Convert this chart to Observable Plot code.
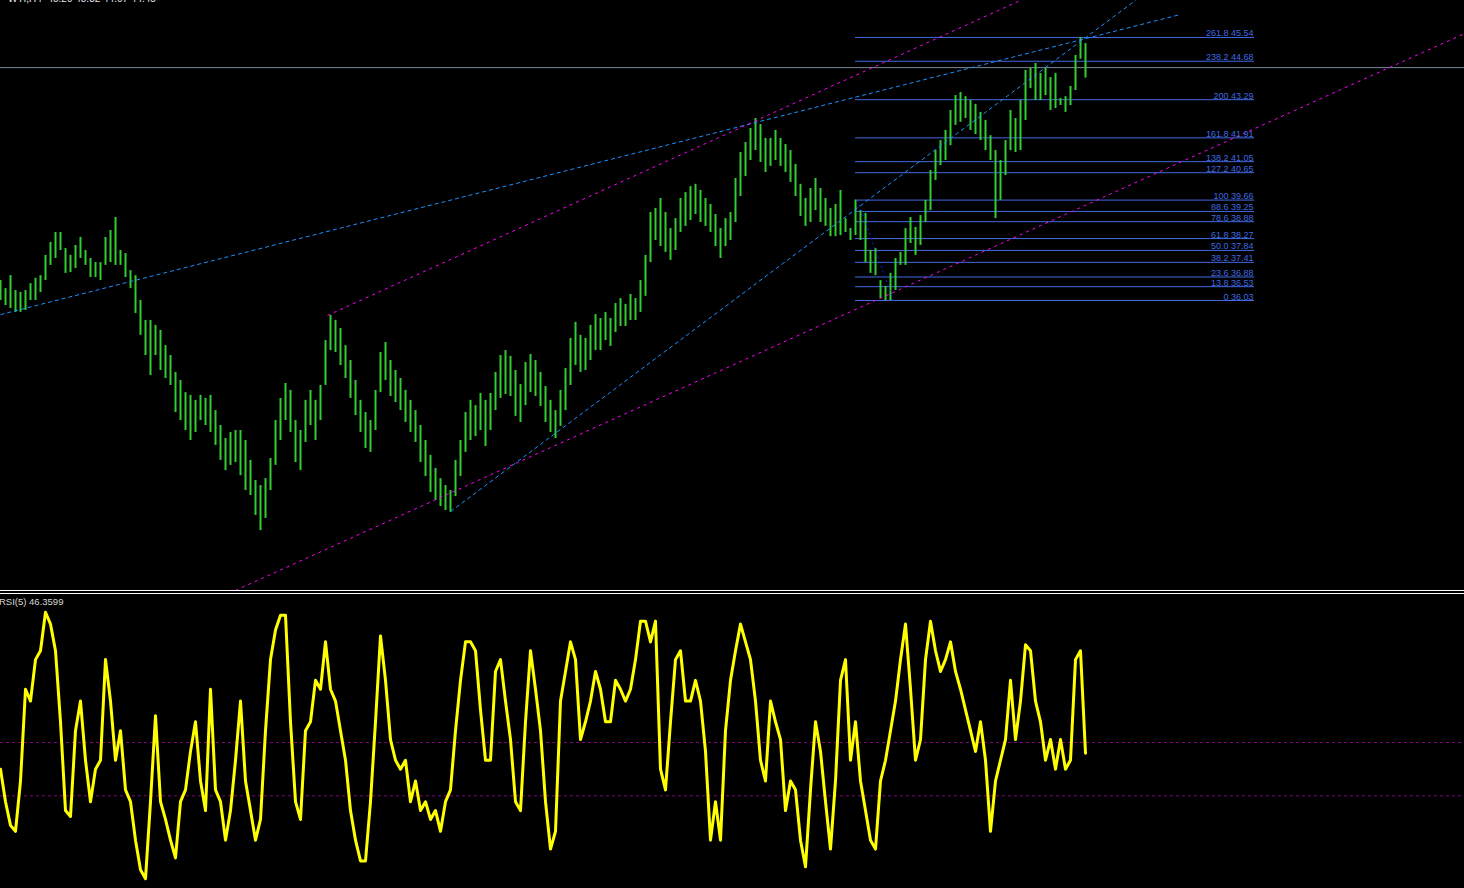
<!DOCTYPE html>
<html><head><meta charset="utf-8">
<script src="https://cdn.jsdelivr.net/npm/d3@7"></script>
<script src="https://cdn.jsdelivr.net/npm/@observablehq/plot@0.6"></script>
<style>
html,body{margin:0;padding:0;background:#000;width:1464px;height:888px;overflow:hidden;}
#wrap{position:relative;width:1464px;height:888px;overflow:hidden;background:#000;}
.panel{position:absolute;left:0;overflow:hidden;}
.panel svg{overflow:hidden;display:block;}
#hdr{position:absolute;left:8px;top:-6px;font:10px "Liberation Sans",Arial,sans-serif;line-height:10px;color:#e8e8e8;white-space:pre;}
#rsilbl{position:absolute;left:-1px;top:596px;font:9.5px "Liberation Sans",Arial,sans-serif;line-height:11px;color:#d8d8d8;white-space:pre;}
.sep{position:absolute;left:0;width:1464px;height:1px;background:#fff;}
</style></head>
<body>
<div id="wrap">
  <div id="price" class="panel" style="top:0;width:1464px;height:590px;"></div>
  <div class="sep" style="top:590px"></div>
  <div class="sep" style="top:593px"></div>
  <div id="rsi" class="panel" style="top:594px;width:1464px;height:294px;"></div>
  <div id="hdr"></div>
  <div id="rsilbl"></div>
</div>
<script>
// ---- data ----
const headerText = "WTI,H4  45.20 45.32 44.07 44.45";
const rsiLabel = "RSI(5) 46.3599";
const lastClose = 44.45;

const priceHigh = [
36.75,36.46,36.93,36.39,36.32,36.39,36.64,36.83,36.93,37.66,
38.13,38.49,38.49,37.91,37.66,38.02,38.31,37.84,37.55,37.40,
37.40,38.31,38.56,39.03,37.84,37.73,37.11,36.93,36.03,35.31,
35.31,35.13,34.95,34.40,34.04,33.43,33.14,32.70,32.60,32.42,
32.60,32.49,32.60,32.05,31.51,31.04,31.26,31.33,31.33,30.97,
30.25,29.52,29.34,29.59,30.32,31.69,32.49,33.03,32.78,31.69,
31.33,32.42,32.78,32.42,32.96,34.58,35.49,35.31,35.02,34.40,
33.86,33.14,32.42,31.98,31.69,32.78,34.15,34.51,33.86,33.50,
33.21,32.78,32.42,32.05,31.51,30.97,30.43,29.96,29.59,29.34,
29.16,30.25,30.97,31.98,32.42,32.23,32.67,32.42,32.67,33.43,
34.04,34.22,34.01,33.50,32.99,33.79,34.08,33.86,33.43,32.92,
32.42,32.05,32.78,33.57,34.66,35.24,34.77,34.66,35.13,35.52,
35.38,35.60,35.38,35.92,36.10,35.89,36.25,36.10,36.75,37.66,
39.21,39.36,39.72,39.21,38.63,38.99,39.72,39.93,40.15,40.23,
40.01,39.72,39.50,39.14,38.63,38.99,39.21,40.44,41.38,41.74,
42.25,42.61,42.39,41.89,41.89,42.18,41.89,41.67,41.45,40.95,
40.23,39.72,40.08,40.44,40.08,39.72,39.36,39.50,40.01,38.99,
38.63,39.66,39.28,39.18,37.84,37.91,36.75,36.54,37.01,37.55,
37.77,38.63,39.03,38.67,39.10,39.65,40.73,41.45,41.81,42.18,
42.90,43.44,43.55,43.40,43.26,43.12,42.83,42.54,41.99,41.45,
41.09,41.81,42.90,42.61,43.26,44.35,44.42,44.60,44.24,44.45,
44.09,44.24,43.33,43.40,43.77,44.89,45.54,45.32
];
const priceLow = [
36.03,35.85,35.74,35.60,35.60,35.67,36.03,36.03,36.32,36.75,
37.30,37.55,37.84,37.01,37.04,37.19,37.55,37.30,36.86,36.86,
36.75,37.30,37.40,37.30,37.30,36.86,36.46,35.56,34.77,34.04,
33.32,34.04,33.50,33.21,32.96,31.98,31.69,31.33,30.97,31.26,
31.69,31.51,31.26,30.79,30.25,29.88,30.07,30.17,29.70,29.16,
28.98,28.26,27.71,28.15,29.16,30.07,30.97,31.69,31.26,30.17,
29.88,30.90,31.51,30.97,31.69,32.96,34.22,34.15,33.68,33.21,
32.49,31.87,31.26,30.68,30.54,31.33,32.70,33.14,32.56,32.34,
32.05,31.62,31.26,30.90,30.17,29.67,29.09,28.80,28.58,28.44,
28.37,28.94,29.67,30.54,30.97,31.11,31.33,30.75,31.33,32.05,
32.49,32.63,32.56,31.84,31.62,32.23,32.70,32.56,32.20,31.62,
31.26,31.04,31.48,32.05,32.96,33.68,33.43,33.50,33.86,34.22,
34.22,34.58,34.37,34.87,35.09,35.09,35.31,35.31,35.60,36.18,
37.40,38.20,37.98,37.77,37.48,37.84,38.49,38.71,38.92,39.14,
38.85,38.71,38.49,37.98,37.55,37.98,38.20,38.85,39.79,40.51,
41.09,41.45,41.02,40.66,40.88,41.09,40.88,40.66,40.30,39.79,
39.07,38.71,38.85,39.28,38.85,38.71,38.34,38.34,38.38,38.49,
38.20,38.38,38.20,37.40,37.01,36.93,36.10,36.03,36.03,36.39,
37.30,37.30,38.09,37.66,38.02,38.85,39.28,40.37,40.91,41.09,
41.63,42.36,42.47,42.61,42.18,42.03,41.81,41.45,41.09,38.99,
39.65,40.55,41.45,41.38,41.45,42.54,43.69,43.26,43.26,43.44,
42.90,42.97,43.08,42.83,43.08,43.62,44.75,44.07
];
const rsiValues = [
41,30,22,20,37,68,64,78,81,94,
90,81,57,27,25,54,64,44,30,41,
44,78,64,44,54,34,30,17,7,4,
30,59,30,24,17,11,30,34,47,57,
37,27,68,34,30,17,27,44,64,37,
27,17,24,54,78,88,93,93,57,30,
24,54,57,71,68,84,68,64,54,44,
27,17,10,10,30,57,86,71,51,44,
41,44,30,37,27,30,24,27,20,30,
34,54,71,84,84,81,61,44,44,74,
78,64,51,30,27,57,81,68,54,30,
14,20,64,74,84,78,51,57,64,74,
68,57,57,71,68,64,68,78,91,91,
84,91,41,34,57,78,81,64,64,71,
64,47,17,30,17,54,71,81,90,84,
78,64,44,37,64,57,51,27,37,34,
17,8,34,57,47,30,14,37,71,78,
44,57,37,27,17,14,37,44,54,64,
78,90,68,44,51,78,91,81,74,78,
84,74,68,61,54,47,57,44,20,37,
44,51,71,51,64,83,81,64,57,44,
51,41,51,41,44,78,81,46.3599
];
const rsiLevels = [50, 32];

const fibLevels = ["0","13.8","23.6","38.2","50.0","61.8","78.6","88.6","100","127.2","138.2","161.8","200","238.2","261.8"];
const fibPrices = [36.03,36.53,36.88,37.41,37.84,38.27,38.88,39.25,39.66,40.65,41.05,41.91,43.29,44.68,45.54];
const fibStartBar = 171, fibEndBar = 250.8;

// trend lines: anchor points [bar, price]
const blueTrendLines = [
  {x1: 0, y1: 35.52, x2: 236, y2: 46.37},
  {x1: 90, y1: 28.40, x2: 227, y2: 46.88}
];
const magentaTrendLines = [
  {x1: 65.4, y1: 35.49, x2: 204, y2: 46.88},
  {x1: 47, y1: 25.55, x2: 292.8, y2: 45.68}
];
const fibTrendLine = [{x1: 171.4, y1: 39.66, x2: 178.6, y2: 36.03}];

// ---- build ----
const bars = priceHigh.map((h, i) => ({i, high: h, low: priceLow[i]}));
const rsi = rsiValues.map((v, i) => ({i, v}));
const fib = fibLevels.map((l, k) => ({label: `${l} ${fibPrices[k].toFixed(2)}`, price: fibPrices[k]}));
const n = priceHigh.length;
const xScale = {domain: [0, n - 1], range: [0, 1085], axis: null};
const font = "Liberation Sans, Arial, sans-serif";

const pricePlot = Plot.plot({
  width: 1464, height: 590, margin: 0,
  x: xScale,
  y: {domain: [25.546, 46.876], range: [590, 0], axis: null},
  style: {background: "#000", fontFamily: font},
  marks: [
    Plot.ruleY(fib, {y: "price", x1: () => fibStartBar, x2: () => fibEndBar, stroke: "#4169e1", strokeWidth: 1}),
    Plot.ruleY([lastClose], {stroke: "#778899", strokeWidth: 1}),
    Plot.ruleX(bars, {x: "i", y1: "low", y2: "high", stroke: "#32cd32", strokeWidth: 2}),
    Plot.link(blueTrendLines, {x1: "x1", y1: "y1", x2: "x2", y2: "y2", stroke: "#1e90ff", strokeWidth: 1, strokeDasharray: "4,3"}),
    Plot.link(magentaTrendLines, {x1: "x1", y1: "y1", x2: "x2", y2: "y2", stroke: "#ff00ff", strokeWidth: 1, strokeDasharray: "3,4"}),
    Plot.link(fibTrendLine, {x1: "x1", y1: "y1", x2: "x2", y2: "y2", stroke: "#1a1aff", strokeWidth: 1, strokeDasharray: "2,3"}),
    Plot.text(fib, {x: () => fibEndBar, y: "price", text: "label", textAnchor: "end", lineAnchor: "bottom", dx: -1, dy: -1, fill: "#4169e1", fontSize: 9})
  ]
});
document.getElementById("price").appendChild(pricePlot);

const rsiPlot = Plot.plot({
  width: 1464, height: 294, margin: 0,
  x: xScale,
  y: {domain: [0, 100], range: [296, 0], axis: null},
  style: {background: "#000", fontFamily: font},
  marks: [
    Plot.ruleY(rsiLevels, {stroke: "#800080", strokeWidth: 1, strokeDasharray: "3,3"}),
    Plot.line(rsi, {x: "i", y: "v", stroke: "#ffff00", strokeWidth: 3, strokeLinejoin: "round"})
  ]
});
document.getElementById("rsi").appendChild(rsiPlot);

document.getElementById("hdr").textContent = headerText;
document.getElementById("rsilbl").textContent = rsiLabel;
</script>
</body></html>
